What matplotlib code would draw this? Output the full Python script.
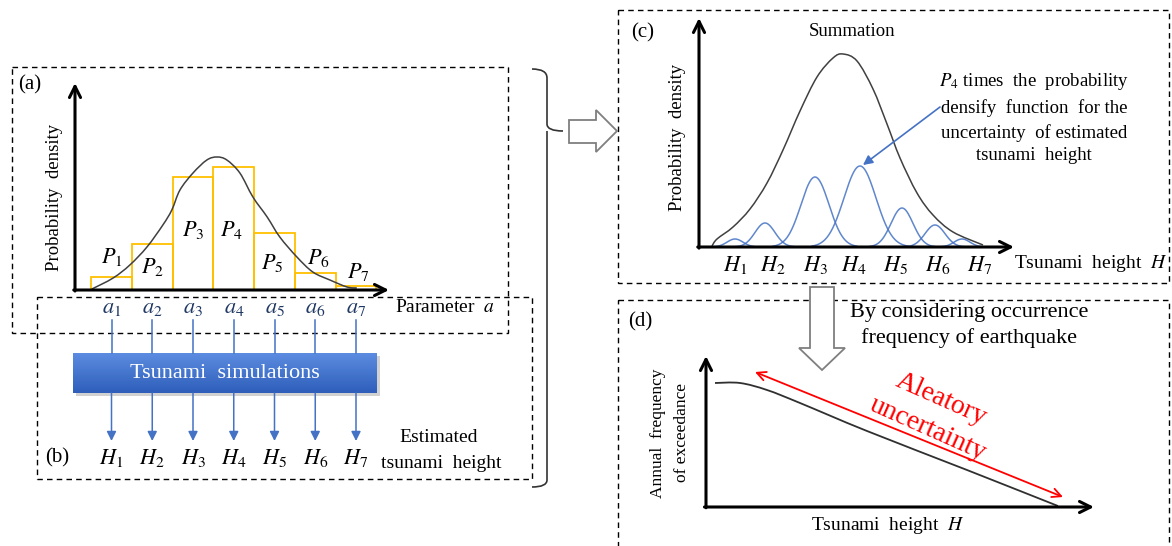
import numpy as np
import matplotlib.pyplot as plt
from matplotlib.patches import Rectangle, Polygon, PathPatch
from matplotlib.path import Path

plt.rcParams['font.family'] = ['Liberation Serif', 'DejaVu Serif']
plt.rcParams['mathtext.fontset'] = 'stix'

W, H = 1172, 546

# (a) discretised parameter distribution
p_heights = [13, 46, 113, 123, 57, 17, 4]
p_label_h = [33, 23, 60, 60, 27, 32, 18]
p_label_x = [0.0, 1.0, 2.0, 2.94, 3.94, 5.07, 6.05]
pdf_a_x = [-0.48, 0.04, 0.45, 0.87, 1.26, 1.48, 1.68, 2.0, 2.34, 2.59, 2.83,
           3.15, 3.47, 3.82, 4.13, 4.55, 4.94, 5.36, 5.78, 6.02]
pdf_a_y = [1, 12, 25, 43, 65, 80, 100, 117, 130, 133, 130,
           117, 93, 73, 53, 33, 18, 10, 3, 2]
a_labels = ['$a_{%d}$' % (i + 1) for i in range(7)]
h_labels = ['$H_{%d}$' % (i + 1) for i in range(7)]
p_labels = ['$P_{%d}$' % (i + 1) for i in range(7)]

# (c) weighted height pdfs and their sum
comp_center = [36, 66, 116, 161, 203, 236, 263]
comp_amp = [8, 24, 70, 81, 39, 22, 8]
comp_sigma = [8, 10, 14, 16, 11, 10, 8]
h_label_x = [36, 74, 116, 155, 197, 239, 281]
sum_x = [13, 18, 34, 51, 68, 84, 101, 118, 134, 144, 158, 174, 188, 201, 218, 234, 254, 284]
sum_y = [1, 8, 20, 38, 64, 97, 136, 170, 189, 193, 186, 158, 123, 89, 54, 32, 15, 2]

# (d) hazard curve
haz_x = [9, 34, 61, 94, 161, 261, 352]
haz_y = [124, 124, 117, 104, 76, 37, 1]

BLUE = '#4472c4'
GOLD = '#ffc000'
DASH = (0, (4, 3))


def smooth(ax, xs, ys, **kw):
    pts = np.column_stack([xs, ys]).astype(float)
    verts, codes = [pts[0]], [Path.MOVETO]
    n = len(pts)
    for i in range(n - 1):
        p0, p1 = pts[max(i - 1, 0)], pts[i]
        p2, p3 = pts[i + 1], pts[min(i + 2, n - 1)]
        verts += [p1 + (p2 - p0) / 6, p2 - (p3 - p1) / 6, p2]
        codes += [Path.CURVE4] * 3
    ax.add_patch(PathPatch(Path(verts, codes), fill=False, **kw))


def px_axes(x0, y0, x1, y1):
    a = fig.add_axes([x0 / W, 1 - y1 / H, (x1 - x0) / W, (y1 - y0) / H])
    a.axis('off')
    return a


def axis_arrows(a):
    kw = dict(arrowstyle='->', lw=2.2, color='black', mutation_scale=20,
              shrinkA=0, shrinkB=0)
    a.annotate('', xy=(1, 0), xytext=(-0.004, 0), xycoords='axes fraction', arrowprops=kw)
    a.annotate('', xy=(0, 1), xytext=(0, -0.005), xycoords='axes fraction', arrowprops=kw)


fig = plt.figure(figsize=(W / 100, H / 100), dpi=100)
base = fig.add_axes([0, 0, 1, 1])
base.set_xlim(0, W)
base.set_ylim(H, 0)
base.axis('off')

# dashed frames
for x0, y0, x1, y1 in [(12, 67, 508, 333), (37, 297, 532, 479),
                       (618, 10, 1169, 283), (618, 300, 1169, 560)]:
    base.add_patch(Rectangle((x0, y0), x1 - x0, y1 - y0, fill=False,
                             ls=DASH, lw=1, ec='black'))

# brace
brace = Path([(532, 69), (547, 69), (547, 78), (547, 124), (547, 131), (563, 131),
              (547, 131), (547, 138), (547, 480), (547, 487), (532, 487)],
             [Path.MOVETO, Path.CURVE3, Path.CURVE3, Path.LINETO, Path.CURVE3, Path.CURVE3,
              Path.MOVETO, Path.CURVE3, Path.LINETO, Path.CURVE3, Path.CURVE3])
base.add_patch(PathPatch(brace, fill=False, lw=1.2, ec='#333333'))

# hollow block arrows
base.add_patch(Polygon([(569, 120), (596, 120), (596, 110), (617, 131), (596, 152),
                        (596, 143), (569, 143)], closed=True, fc='white', ec='#7f7f7f', lw=1.3))
base.add_patch(Polygon([(810, 287), (834, 287), (834, 348), (845, 348), (822, 370),
                        (799, 348), (810, 348)], closed=True, fc='white', ec='#7f7f7f', lw=1.3))

# panel letters
for s, x, y in [('(a)', 18, 85), ('(b)', 45, 458), ('(c)', 631, 33), ('(d)', 628, 322)]:
    base.text(x, y, s, fontsize=15, va='center', ha='left')

# ---- (a)
axa = px_axes(75, 83, 389, 290)
axa.set_xlim((75 - 111.5) / 40.75, (389 - 111.5) / 40.75)
axa.set_ylim(0, 207)
axa.bar(range(7), p_heights, width=1, fill=False, edgecolor=GOLD, lw=1.3)
smooth(axa, pdf_a_x, pdf_a_y, ec='#404040', lw=1.1)
axis_arrows(axa)
for i in range(7):
    axa.text(p_label_x[i], p_label_h[i], p_labels[i], fontsize=16, ha='center', va='center')
    axa.annotate(a_labels[i], xy=(i, 0), xytext=(0, -18), textcoords='offset pixels',
                 fontsize=16, ha='center', va='center', color='#1f3864',
                 annotation_clip=False)
base.text(55, 197, 'Probability  density', rotation=90, fontsize=13.5,
          ha='center', va='center')
base.text(395, 308, 'Parameter  $a$', fontsize=14, ha='left', va='center')

# ---- (b)
axb = px_axes(75, 297, 389, 479)
axb.set_xlim(axa.get_xlim())
axb.set_ylim(479, 297)
for i in range(7):
    axb.plot([i, i], [320, 353], color=BLUE, lw=1.1)
    axb.annotate('', xy=(i, 441), xytext=(i, 393),
                 arrowprops=dict(arrowstyle='-|>', color=BLUE, lw=1.1,
                                 mutation_scale=14, shrinkA=0, shrinkB=0))
    axb.text(i, 458, h_labels[i], fontsize=16, ha='center', va='center')

grad = np.linspace(0, 1, 50)[:, None]
top_c, bot_c = np.array([0.36, 0.55, 0.88]), np.array([0.18, 0.37, 0.73])
img = top_c[None, None, :] * (1 - grad[:, :, None]) + bot_c[None, None, :] * grad[:, :, None]
base.add_patch(Rectangle((76, 356), 304, 40, fc='#9a9a9a', ec='none', alpha=0.45, zorder=1))
base.imshow(img, extent=(73, 377, 393, 353), aspect='auto', zorder=2)
base.set_xlim(0, W)
base.set_ylim(H, 0)
base.text(225, 373, 'Tsunami  simulations', color='white', fontsize=16,
          ha='center', va='center', zorder=3)
base.text(439, 437, 'Estimated', fontsize=14, ha='center', va='center')
base.text(441, 463, 'tsunami  height', fontsize=14, ha='center', va='center')

# ---- (c)
axc = px_axes(699, 18, 1014, 247)
axc.set_xlim(0, 315)
axc.set_ylim(0, 229)
xx = np.linspace(0, 300, 600)
for c, a, s in zip(comp_center, comp_amp, comp_sigma):
    yy = a * np.exp(-0.5 * ((xx - c) / s) ** 2)
    keep = np.abs(xx - c) < 3 * s
    axc.plot(xx[keep], yy[keep], color=BLUE, lw=1.1, alpha=0.85)
smooth(axc, sum_x, sum_y, ec='#404040', lw=1.1)
axis_arrows(axc)
for x, s in zip(h_label_x, h_labels):
    axc.annotate(s, xy=(x, 0), xytext=(0, -18), textcoords='offset pixels',
                 fontsize=16, ha='center', va='center', annotation_clip=False)
axc.annotate('', xy=(164, 82), xytext=(241, 140), annotation_clip=False,
             arrowprops=dict(arrowstyle='-|>', color=BLUE, lw=1.2,
                             mutation_scale=14, shrinkA=0, shrinkB=0))
base.text(852, 32, 'Summation', fontsize=13.5, ha='center', va='center')
base.text(678, 137, 'Probability  density', rotation=90, fontsize=13.5,
          ha='center', va='center')
base.text(1014, 264, 'Tsunami  height  $H$', fontsize=14, ha='left', va='center')
for y, s in [(82, '$P_4$ times  the  probability'), (108, 'densify  function  for the'),
             (133, 'uncertainty  of estimated'), (156, 'tsunami  height')]:
    base.text(1034, y, s, fontsize=13.5, ha='center', va='center')

# ---- (d)
axd = px_axes(706, 356, 1094, 507)
axd.set_xlim(0, 388)
axd.set_ylim(0, 151)
smooth(axd, haz_x, haz_y, ec='#303030', lw=1.3)
axis_arrows(axd)
axd.annotate('', xy=(357, 10), xytext=(49, 135), annotation_clip=False,
             arrowprops=dict(arrowstyle='<->', color='red', lw=1.3,
                             mutation_scale=16, shrinkA=0, shrinkB=0))
axd.text(235, 108, 'Aleatory', color='red', fontsize=20, rotation=-24,
         ha='center', va='center', rotation_mode='anchor')
axd.text(222, 78, 'uncertainty', color='red', fontsize=20, rotation=-24,
         ha='center', va='center', rotation_mode='anchor')
base.text(969, 312, 'By considering occurrence', fontsize=16, ha='center', va='center')
base.text(969, 338, 'frequency of earthquake', fontsize=16, ha='center', va='center')
base.text(658, 433, 'Annual  frequency', rotation=90, fontsize=12.5, ha='center', va='center')
base.text(682, 433, 'of exceedance', rotation=90, fontsize=12.5, ha='center', va='center')
base.text(888, 525, 'Tsunami  height  $H$', fontsize=14, ha='center', va='center')

fig.savefig('out.png', dpi=100)
